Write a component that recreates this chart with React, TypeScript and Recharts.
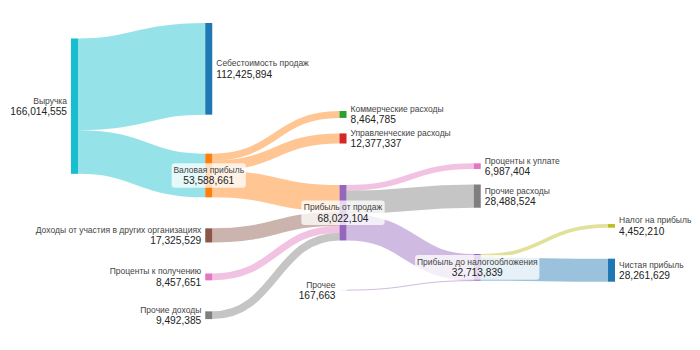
import { Sankey } from 'recharts';

// visible flows of the statement, in rubles
const flows: [string, string, number][] = [
  ['Выручка', 'Себестоимость продаж', 112425894],
  ['Выручка', 'Валовая прибыль', 53588661],
  ['Валовая прибыль', 'Коммерческие расходы', 8464785],
  ['Валовая прибыль', 'Управленческие расходы', 12377337],
  ['Валовая прибыль', 'Прибыль от продаж', 32746539],
  ['Доходы от участия в других организациях', 'Прибыль от продаж', 17325529],
  ['Проценты к получению', 'Прибыль от продаж', 8457651],
  ['Прочие доходы', 'Прибыль от продаж', 9492385],
  ['Прибыль от продаж', 'Проценты к уплате', 6987404],
  ['Прибыль от продаж', 'Прочие расходы', 28488524],
  ['Прибыль от продаж', 'Прибыль до налогообложения', 32546176],
  ['Прочее', 'Прибыль до налогообложения', 167663],
  ['Прибыль до налогообложения', 'Налог на прибыль', 4452210],
  ['Прибыль до налогообложения', 'Чистая прибыль', 28261629],
];

const flowColors = [
  'rgba(23,190,207,0.45)', 'rgba(23,190,207,0.45)',
  'rgba(255,127,14,0.45)', 'rgba(255,127,14,0.45)', 'rgba(255,127,14,0.45)',
  'rgba(140,86,75,0.45)', 'rgba(227,119,194,0.45)', 'rgba(127,127,127,0.45)',
  'rgba(227,119,194,0.45)', 'rgba(127,127,127,0.45)', 'rgba(148,103,189,0.45)',
  'rgba(148,103,189,0.45)', 'rgba(188,189,34,0.45)', 'rgba(31,119,180,0.45)',
];

// node order inside each column; "~" nodes are invisible spacers
const nodeOrder = [
  '~z0', 'Выручка',
  'Себестоимость продаж', '~s1a', 'Валовая прибыль', '~s1b',
  'Доходы от участия в других организациях', '~s1c', 'Проценты к получению', '~s1d', 'Прочие доходы',
  '~a2', 'Коммерческие расходы', 'Управленческие расходы', '~s2b', 'Прибыль от продаж', '~s2c', 'Прочее',
  '~a3', 'Проценты к уплате', 'Прочие расходы', '~s3', 'Прибыль до налогообложения',
  '~a4', 'Налог на прибыль', '~s4', 'Чистая прибыль',
];

// invisible flows: keep every node in its column and space the columns like the original
const spacerFlows: [string, string, number][] = [
  ['~z0', 'Доходы от участия в других организациях', 1],
  ['~z0', 'Проценты к получению', 1],
  ['~z0', 'Прочие доходы', 1],
  ['~z0', '~s1a', 1],
  ['~z0', '~s1b', 1],
  ['~z0', '~s1c', 1],
  ['~z0', '~s1d', 1],
  ['Себестоимость продаж', '~a2', 88950000],
  ['~s1b', '~a2', 1],
  ['~s1c', '~s2b', 1],
  ['~s1d', '~s2c', 1],
  ['Прочие доходы', 'Прочее', 1],
  ['~a2', '~a3', 88950000],
  ['Коммерческие расходы', '~a3', 1],
  ['Управленческие расходы', '~a3', 1],
  ['~s2c', '~a3', 22820000],
  ['~s2b', '~s3', 1],
  ['~a3', '~a4', 153100000],
  ['~s3', '~a4', 18770000],
  ['~s1a', '~a4', 9810000],
  ['~s2b', '~a4', 12880000],
  ['Прочие расходы', '~a4', 28488524],
  ['Проценты к уплате', '~a4', 4550000],
  ['~s3', '~s4', 1],
];

const nodeColors: Record<string, string> = {
  'Выручка': '#17becf',
  'Себестоимость продаж': '#1f77b4',
  'Валовая прибыль': '#ff7f0e',
  'Доходы от участия в других организациях': '#8c564b',
  'Проценты к получению': '#e377c2',
  'Прочие доходы': '#7f7f7f',
  'Коммерческие расходы': '#2ca02c',
  'Управленческие расходы': '#d62728',
  'Прибыль от продаж': '#9467bd',
  'Прочее': '#c5b0d5',
  'Проценты к уплате': '#e377c2',
  'Прочие расходы': '#7f7f7f',
  'Прибыль до налогообложения': '#9467bd',
  'Налог на прибыль': '#bcbd22',
  'Чистая прибыль': '#1f77b4',
};

const centerLabels = ['Валовая прибыль', 'Прибыль от продаж', 'Прибыль до налогообложения'];
const leftLabels = ['Выручка', 'Доходы от участия в других организациях', 'Проценты к получению', 'Прочие доходы', 'Прочее'];

const idx = (n: string) => nodeOrder.indexOf(n);

const shownValue: Record<string, number> = {};
nodeOrder.forEach((n) => {
  const inSum = flows.filter((f) => f[1] === n).reduce((s, f) => s + f[2], 0);
  const outSum = flows.filter((f) => f[0] === n).reduce((s, f) => s + f[2], 0);
  shownValue[n] = Math.max(inSum, outSum);
});

const data = {
  nodes: nodeOrder.map((name) => ({ name })),
  links: [...flows, ...spacerFlows].map((f) => ({ source: idx(f[0]), target: idx(f[1]), value: f[2] })),
};

const FONT = '"Liberation Sans", Arial, sans-serif';

function NodeShape(props: any) {
  const { x, y, width, height, payload } = props;
  const name: string = payload.name;
  if (name.startsWith('~')) return <g />;
  const cx = x + width / 2;
  const cy = y + height / 2;
  const value = shownValue[name].toLocaleString('en-US');

  let tx = x + width + 4;
  let anchor: 'start' | 'end' | 'middle' = 'start';
  let box = null;
  if (centerLabels.includes(name)) {
    tx = cx;
    anchor = 'middle';
    const w = Math.max(name.length * 4.55, value.length * 5.3) + 6;
    box = <rect x={cx - w / 2} y={cy - 12.3} width={w} height={24.6} rx={3} fill="#fff" fillOpacity={0.75} />;
  } else if (leftLabels.includes(name)) {
    tx = x - 4;
    anchor = 'end';
  }

  return (
    <g>
      <rect x={x} y={y} width={width} height={height} fill={nodeColors[name]} />
      {box}
      <text x={tx} y={cy - 5.5} textAnchor={anchor} dominantBaseline="central" fontSize={8.5} fill="#444" fontFamily={FONT}>
        {name}
      </text>
      <text x={tx} y={cy + 5.5} textAnchor={anchor} dominantBaseline="central" fontSize={10.2} fill="#222" fontFamily={FONT}>
        {value}
      </text>
    </g>
  );
}

function LinkShape(props: any) {
  const { sourceX, targetX, sourceY, targetY, sourceControlX, targetControlX, linkWidth, index } = props;
  if (index >= flows.length) return <g />;
  return (
    <path
      d={`M${sourceX},${sourceY}C${sourceControlX},${sourceY} ${targetControlX},${targetY} ${targetX},${targetY}`}
      fill="none"
      stroke={flowColors[index]}
      strokeWidth={Math.max(linkWidth, 1)}
    />
  );
}

export default function App() {
  return (
    <div style={{ width: 692, height: 334, fontFamily: FONT }}>
      <Sankey
        width={692}
        height={334}
        data={data}
        margin={{ top: 15, right: 85, bottom: 22.9, left: 63 }}
        nodeWidth={7}
        nodePadding={15.5}
        iterations={0}
        sort={false}
        linkCurvature={0.5}
        node={NodeShape}
        link={LinkShape}
      />
    </div>
  );
}
